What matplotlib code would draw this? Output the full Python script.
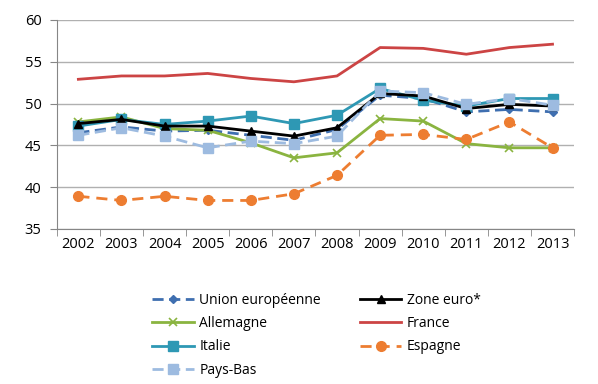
import matplotlib
matplotlib.use("Agg")
import matplotlib.pyplot as plt
from matplotlib.ticker import MultipleLocator, FixedLocator

plt.rcParams['font.family'] = ['Open Sans', 'DejaVu Sans']

years = [2002, 2003, 2004, 2005, 2006, 2007, 2008, 2009, 2010, 2011, 2012, 2013]
ue = [46.5, 47.2, 46.7, 46.8, 46.2, 45.6, 46.9, 51.0, 50.6, 49.0, 49.3, 49.0]
zone_euro = [47.6, 48.1, 47.3, 47.3, 46.7, 46.1, 47.1, 51.2, 50.9, 49.4, 49.9, 49.7]
allemagne = [47.8, 48.4, 47.0, 46.8, 45.3, 43.5, 44.1, 48.2, 47.9, 45.2, 44.7, 44.7]
france = [52.9, 53.3, 53.3, 53.6, 53.0, 52.6, 53.3, 56.7, 56.6, 55.9, 56.7, 57.1]
italie = [47.3, 48.1, 47.5, 47.9, 48.5, 47.6, 48.6, 51.8, 50.4, 49.7, 50.6, 50.6]
espagne = [38.9, 38.4, 38.9, 38.4, 38.4, 39.2, 41.4, 46.2, 46.3, 45.7, 47.8, 44.7]
pays_bas = [46.2, 47.1, 46.1, 44.7, 45.5, 45.2, 46.1, 51.5, 51.3, 49.9, 50.6, 49.8]

fig = plt.figure(figsize=(5.98, 3.84), dpi=100)
ax = fig.add_axes([0.095, 0.404, 0.865, 0.544])

lines = {}
lines['ue'], = ax.plot(years, ue, color='#3F6FB0', lw=2, ls=(0, (4, 2)), marker='D', ms=4.5, label='Union européenne', zorder=3)
lines['ze'], = ax.plot(years, zone_euro, color='black', lw=2, marker='^', ms=6, label='Zone euro*', zorder=4)
lines['al'], = ax.plot(years, allemagne, color='#8AB440', lw=2, marker='x', ms=6, mew=1.2, label='Allemagne', zorder=3)
lines['fr'], = ax.plot(years, france, color='#CC4444', lw=2, label='France', zorder=3)
lines['it'], = ax.plot(years, italie, color='#2E98B4', lw=2, marker='s', ms=6.5, label='Italie', zorder=3)
lines['es'], = ax.plot(years, espagne, color='#ED7D31', lw=2, ls=(0, (4, 2.5)), marker='o', ms=7, label='Espagne', zorder=3)
lines['pb'], = ax.plot(years, pays_bas, color='#9DBBE0', lw=2, ls=(0, (4, 2)), marker='s', ms=7, label='Pays-Bas', zorder=5)

ax.set_xlim(2001.5, 2013.5)
ax.set_ylim(35, 60)
ax.yaxis.set_major_locator(MultipleLocator(5))
ax.set_xticks(years)
ax.set_xticklabels([str(y) for y in years])
ax.xaxis.set_minor_locator(FixedLocator([y + 0.5 for y in range(2001, 2014)]))
ax.tick_params(axis='x', which='major', length=0, labelsize=10.5, pad=6)
ax.tick_params(axis='x', which='minor', length=5, color='#868686', direction='out')
ax.tick_params(axis='y', length=5, color='#868686', labelsize=10.5, pad=6)
ax.grid(axis='y', color='#B0B0B0', lw=1)
ax.set_axisbelow(True)
for s in ['top', 'right']:
    ax.spines[s].set_visible(False)
for s in ['left', 'bottom']:
    ax.spines[s].set_color('#868686')

order = ['ue', 'al', 'it', 'pb', 'ze', 'fr', 'es']
h = [lines[k] for k in order]
fig.legend(h, [l.get_label() for l in h], ncol=2, loc='upper left',
           bbox_to_anchor=(0.245, 0.252), frameon=False, fontsize=10,
           handlelength=3.0, handletextpad=0.4, columnspacing=2.8,
           labelspacing=0.6, borderaxespad=0)

fig.savefig('out.png', dpi=100)
